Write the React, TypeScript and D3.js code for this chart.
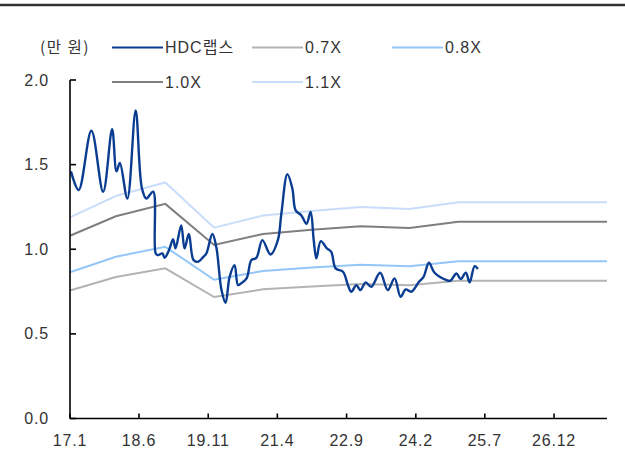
import * as d3 from 'd3';

// HDC랩스 주가 (만 원)
const priceDates = [
  '2017-01-08', '2017-03-07', '2017-06-10', '2017-09-06', '2017-11-12', '2017-12-15',
  '2018-01-09', '2018-03-06', '2018-05-07', '2018-06-23', '2018-07-26', '2018-09-15',
  '2018-10-04', '2018-10-21', '2018-11-23', '2018-12-10', '2019-01-12', '2019-02-11',
  '2019-03-01', '2019-04-13', '2019-05-08', '2019-06-09', '2019-07-14', '2019-08-16',
  '2019-09-22', '2019-10-18', '2019-12-02', '2020-01-01', '2020-02-08', '2020-03-10',
  '2020-04-09', '2020-05-16', '2020-06-11', '2020-07-06', '2020-08-15', '2020-09-19',
  '2020-10-26', '2020-12-10', '2021-02-09', '2021-04-05', '2021-05-01', '2021-06-15',
  '2021-07-22', '2021-08-16', '2021-09-28', '2021-11-05', '2021-12-06', '2021-12-29',
  '2022-01-18', '2022-02-20', '2022-04-07', '2022-05-09', '2022-06-11', '2022-08-05',
  '2022-09-11', '2022-10-06', '2022-11-13', '2022-12-13', '2023-01-22', '2023-03-04',
  '2023-05-10', '2023-07-06', '2023-08-26', '2023-10-10', '2023-11-17', '2023-12-29',
  '2024-02-25', '2024-03-30', '2024-05-09', '2024-06-20', '2024-09-17', '2024-10-16',
  '2024-12-01', '2025-01-01', '2025-02-09', '2025-03-09', '2025-04-16', '2025-05-10',
];
const priceValues = [
  1.46, 1.35, 1.70, 1.34, 1.71, 1.46,
  1.51, 1.30, 1.82, 1.36, 1.30, 1.34,
  0.975, 0.965, 0.975, 0.95, 0.995, 1.06,
  1.005, 1.14, 1.005, 1.09, 0.936, 0.926,
  0.952, 0.975, 1.09, 1.01, 0.76, 0.684,
  0.837, 0.906, 0.788, 0.80, 0.83, 0.936,
  0.949, 1.054, 0.969, 1.054, 1.21, 1.443,
  1.36, 1.23, 1.20, 1.15, 1.22, 1.054,
  0.946, 1.048, 1.005, 0.985, 0.887, 0.867,
  0.788, 0.749, 0.788, 0.759, 0.804, 0.778,
  0.861, 0.759, 0.828, 0.719, 0.763, 0.749,
  0.808, 0.837, 0.92, 0.861, 0.818, 0.814,
  0.857, 0.824, 0.861, 0.804, 0.90, 0.883,
];

// BPS (만 원) used for the PBR band
const bpsDates = [
  '2017-01-01', '2017-12-10', '2018-12-15', '2019-12-15', '2020-12-15',
  '2021-12-15', '2022-12-15', '2023-12-15', '2024-12-15', '2028-01-01',
];
const bpsValues = [1.08, 1.195, 1.268, 1.025, 1.09, 1.115, 1.136, 1.125, 1.162, 1.162];

const bandMultiples = [0.7, 0.8, 1.0, 1.1];
const bandLabels = ['0.7X', '0.8X', '1.0X', '1.1X'];
const bandColors = ['#b3b3b3', '#94c6f7', '#7f7f7f', '#c9ddfb'];

const xTickDates = [
  '2017-01-01', '2018-06-01', '2019-11-01', '2021-04-01',
  '2022-09-01', '2024-02-01', '2025-07-01', '2026-12-01',
];
const yTicks = [0, 0.5, 1.0, 1.5, 2.0];

const W = 625;
const H = 462;
const plot = { left: 70, right: 607, top: 80, bottom: 418.5 };
const latin = '"Liberation Sans", Arial, "Noto Sans CJK KR", sans-serif';
const priceColor = '#0a3d91';

const parse = d3.timeParse('%Y-%m-%d');

export default function App() {
  const x = d3
    .scaleTime()
    .domain([parse('2017-01-01')!, parse('2028-01-01')!])
    .range([plot.left, plot.right]);
  const y = d3.scaleLinear().domain([0, 2]).range([plot.bottom, plot.top]);

  const price = priceDates.map((d, i) => ({ date: parse(d)!, v: priceValues[i] }));
  const bps = bpsDates.map((d, i) => ({ date: parse(d)!, v: bpsValues[i] }));

  const priceLine = d3
    .line<{ date: Date; v: number }>()
    .x((d) => x(d.date))
    .y((d) => y(d.v))
    .curve(d3.curveCatmullRom.alpha(0.5));

  const bandLine = (m: number) =>
    d3
      .line<{ date: Date; v: number }>()
      .x((d) => x(d.date))
      .y((d) => y(d.v * m))(bps);

  const fmtX = (s: string) => {
    const d = parse(s)!;
    return `${String(d.getFullYear()).slice(2)}.${d.getMonth() + 1}`;
  };

  const legend = [
    { label: 'HDC랩스', color: priceColor, w: 2.2, lx: 112, row: 0 },
    { label: bandLabels[0], color: bandColors[0], w: 2, lx: 252, row: 0 },
    { label: bandLabels[1], color: bandColors[1], w: 2, lx: 392, row: 0 },
    { label: bandLabels[2], color: bandColors[2], w: 2, lx: 112, row: 1 },
    { label: bandLabels[3], color: bandColors[3], w: 2, lx: 252, row: 1 },
  ];
  const rowY = [47.5, 82];

  return (
    <svg
      width={W}
      height={H}
      style={{ position: 'absolute', left: 0, top: 0, background: '#fff' }}
    >
      <line x1={0} x2={W} y1={5} y2={5} stroke="#333" strokeWidth={2.5} />

      <text
        x={40}
        y={47.5}
        dy="0.35em"
        fontFamily='"Noto Sans CJK KR", sans-serif'
        fontSize={15.5}
        letterSpacing={1.5}
        fill="#333"
      >
        (만 원)
      </text>
      {legend.map((l) => (
        <g key={l.label}>
          <line
            x1={l.lx}
            x2={l.lx + 51}
            y1={rowY[l.row]}
            y2={rowY[l.row]}
            stroke={l.color}
            strokeWidth={l.w}
          />
          <text
            x={l.lx + 53}
            y={rowY[l.row]}
            dy="0.36em"
            fontFamily={latin}
            fontSize={16}
            letterSpacing={1}
            fill="#333"
          >
            {l.label}
          </text>
        </g>
      ))}

      {bandMultiples.map((m, i) => (
        <path key={m} d={bandLine(m) ?? ''} fill="none" stroke={bandColors[i]} strokeWidth={2} />
      ))}
      <path d={priceLine(price) ?? ''} fill="none" stroke={priceColor} strokeWidth={2.4} />

      {/* axes */}
      <line x1={plot.left} x2={plot.left} y1={plot.top} y2={plot.bottom} stroke="#000" strokeWidth={1.6} />
      <line x1={plot.left} x2={plot.right} y1={plot.bottom} y2={plot.bottom} stroke="#000" strokeWidth={1.6} />
      {yTicks.map((t) => (
        <g key={t}>
          <line x1={plot.left} x2={plot.left + 6} y1={y(t)} y2={y(t)} stroke="#000" strokeWidth={1.6} />
          <text
            x={49}
            y={y(t)}
            dy="0.35em"
            textAnchor="end"
            fontFamily={latin}
            fontSize={16}
            letterSpacing={0.8}
            fill="#333"
          >
            {d3.format('.1f')(t)}
          </text>
        </g>
      ))}
      {xTickDates.map((s) => (
        <g key={s}>
          <line
            x1={x(parse(s)!)}
            x2={x(parse(s)!)}
            y1={plot.bottom}
            y2={plot.bottom - 5}
            stroke="#000"
            strokeWidth={1.6}
          />
          <text
            x={x(parse(s)!)}
            y={440}
            dy="0.35em"
            textAnchor="middle"
            fontFamily={latin}
            fontSize={16}
            letterSpacing={0.8}
            fill="#333"
          >
            {fmtX(s)}
          </text>
        </g>
      ))}
    </svg>
  );
}
